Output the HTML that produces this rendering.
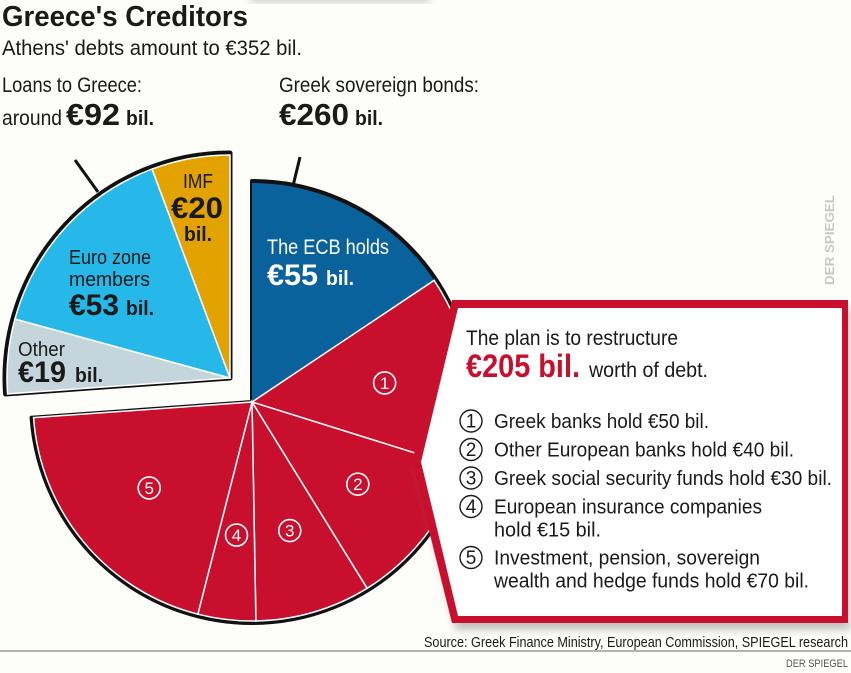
<!DOCTYPE html>
<html><head><meta charset="utf-8"><style>
html,body{margin:0;padding:0;background:#fdfdf9;}
svg{display:block;font-family:"Liberation Sans Narrow","Liberation Sans",sans-serif;}
</style></head><body>
<svg id="chart" width="851" height="673" viewBox="0 0 851 673">
<defs>
<filter id="sh" x="-10%" y="-10%" width="130%" height="130%"><feGaussianBlur stdDeviation="4"/></filter>
</defs>
<rect width="851" height="673" fill="#fdfdf9"/>
<rect x="250" y="-8" width="180" height="10" rx="4" fill="#999" opacity="0.5" filter="url(#sh)"/>
<text x="2" y="26" font-size="29" font-weight="bold" fill="#1a1a1a" textLength="246" lengthAdjust="spacingAndGlyphs">Greece's Creditors</text>
<text x="2" y="55" font-size="21" fill="#1a1a1a" textLength="300" lengthAdjust="spacingAndGlyphs">Athens' debts amount to €352 bil.</text>
<text x="2" y="92" font-size="21" fill="#1a1a1a" textLength="140" lengthAdjust="spacingAndGlyphs">Loans to Greece:</text>
<text x="2" y="125" font-size="21" fill="#1a1a1a"><tspan textLength="60" lengthAdjust="spacingAndGlyphs">around</tspan><tspan x="66" font-size="31" font-weight="bold" textLength="54" lengthAdjust="spacingAndGlyphs">€92</tspan><tspan x="126" font-weight="bold" font-size="20" textLength="28" lengthAdjust="spacingAndGlyphs">bil.</tspan></text>
<text x="279" y="92" font-size="21" fill="#1a1a1a" textLength="200" lengthAdjust="spacingAndGlyphs">Greek sovereign bonds:</text>
<text x="279" y="125" font-size="31" font-weight="bold" fill="#1a1a1a"><tspan textLength="70" lengthAdjust="spacingAndGlyphs">€260</tspan><tspan x="355" font-size="20" textLength="28" lengthAdjust="spacingAndGlyphs">bil.</tspan></text>
<text transform="translate(834,285) rotate(-90)" font-size="13" font-weight="bold" fill="#c8c8c8" textLength="90" lengthAdjust="spacingAndGlyphs">DER SPIEGEL</text>
<line x1="75" y1="160" x2="98" y2="192" stroke="#111" stroke-width="3"/>
<line x1="300" y1="157" x2="293" y2="186" stroke="#111" stroke-width="3"/>
<g id="loans"></g>
<g id="bonds"></g>
<g>
<polygon points="456,308 850,308 850,630 456,630 416,470" fill="#777" opacity="0.45" filter="url(#sh)"/>
<polygon points="452,300 848,300 848,623 452,623 412,462" fill="#c8102e"/>
<polygon points="458,308 842,308 842,616 458,616 421,462" fill="#fff"/>
<text x="466" y="345" font-size="21" fill="#1a1a1a" textLength="212" lengthAdjust="spacingAndGlyphs">The plan is to restructure</text>
<text x="466" y="377" font-size="32" font-weight="bold" fill="#c8102e" textLength="114" lengthAdjust="spacingAndGlyphs">€205 bil.</text>
<text x="589" y="377" font-size="21" fill="#1a1a1a" textLength="119" lengthAdjust="spacingAndGlyphs">worth of debt.</text>
</g>
<g id="legend"></g>
<line x1="0" y1="651" x2="851" y2="651" stroke="#666" stroke-width="1"/>
<text x="848" y="647" text-anchor="end" font-size="15" fill="#1a1a1a" textLength="424" lengthAdjust="spacingAndGlyphs">Source: Greek Finance Ministry, European Commission, SPIEGEL research</text>
<text x="848" y="667" text-anchor="end" font-size="11" fill="#555" textLength="62" lengthAdjust="spacingAndGlyphs">DER SPIEGEL</text>
</svg>
<script>
const bondLabels = ["ECB","Greek banks","Other European banks","Greek social security funds","European insurance companies","Investment, pension, sovereign wealth and hedge funds"];
const bondValues = [55,50,40,30,15,70];
const loanLabels = ["Other","Euro zone members","IMF"];
const loanValues = [19,53,20];
const legendLines = [["Greek banks hold €50 bil."],["Other European banks hold €40 bil."],["Greek social security funds hold €30 bil."],["European insurance companies","hold €15 bil."],["Investment, pension, sovereign","wealth and hedge funds hold €70 bil."]];
const legendWidths = [[215],[300],[338],[268,107],[266,315]];

const NS="http://www.w3.org/2000/svg";
const total = bondValues.reduce((a,b)=>a+b,0)+loanValues.reduce((a,b)=>a+b,0);
function ang(v){return v/total*360;}
function pt(cx,cy,r,a){const t=a*Math.PI/180;return [cx+r*Math.sin(t),cy-r*Math.cos(t)];}
function arc(cx,cy,r,a0,a1){const p0=pt(cx,cy,r,a0),p1=pt(cx,cy,r,a1);const lg=(a1-a0)>180?1:0;
 return `M${cx},${cy}L${p0[0]},${p0[1]}A${r},${r} 0 ${lg} 1 ${p1[0]},${p1[1]}Z`;}
function mk(tag,attrs,parent){const e=document.createElementNS(NS,tag);for(const k in attrs)e.setAttribute(k,attrs[k]);parent.appendChild(e);return e;}

// bonds pie
const bg=document.getElementById('bonds');
const BC=[252,402],BR=219;
const bondColors=["#0a629c","#c8102e","#c8102e","#c8102e","#c8102e","#c8102e"];
const bondEnd=bondValues.reduce((s,v)=>s+ang(v),0);
const outline=mk('path',{d:arc(BC[0],BC[1],BR+2,0,bondEnd),fill:"#111",stroke:"#111","stroke-width":4,"stroke-linejoin":"round"},bg);


let a=0;
bondValues.forEach((v,i)=>{
 const a1=a+ang(v);
 const p=mk('path',{d:arc(BC[0],BC[1],BR,a,a1),fill:bondColors[i],stroke:"#fff","stroke-width":i===0?0:1.5},bg);
 
 
 if(i>0){
  const m=pt(BC[0],BC[1],134,(a+a1)/2);
  const c=mk('circle',{cx:m[0],cy:m[1],r:11,fill:"none",stroke:"#fff","stroke-width":1.6},bg);
  
  
  const t=mk('text',{x:m[0],y:m[1]+6,"text-anchor":"middle","font-size":17,fill:"#fff"},bg);
  t.textContent=String(i);
  
  
 }
 a=a1;
});
const e1=mk('text',{x:267,y:254,"font-size":21,fill:"#fff",textLength:122,lengthAdjust:"spacingAndGlyphs"},bg);
e1.textContent="The ECB holds";


const e2=mk('text',{x:267,y:285,"font-size":30,"font-weight":"bold",fill:"#fff"},bg);
e2.innerHTML='<tspan textLength="51" lengthAdjust="spacingAndGlyphs">€'+bondValues[0]+'</tspan><tspan x="326" font-size="20" textLength="28" lengthAdjust="spacingAndGlyphs">bil.</tspan>';



// loans pie
const lg=document.getElementById('loans');
const LC=[230,378],LR=223;
const loanColors=["#c5d5dc","#25b8e8","#e2a200"];
const lStart=bondEnd,lEnd=lStart+loanValues.reduce((s,v)=>s+ang(v),0);
const lo=mk('path',{d:arc(LC[0],LC[1],LR+2,lStart,lEnd),fill:"#111",stroke:"#111","stroke-width":5,"stroke-linejoin":"round"},lg);


let b=lStart;
loanValues.forEach((v,i)=>{
 const b1=b+ang(v);
 const p=mk('path',{d:arc(LC[0],LC[1],LR,b,b1),fill:loanColors[i],stroke:"#fff","stroke-width":1.5},lg);
 
 
 b=b1;
});
function lbl(x,y,s,fs,bold,w,name,col){const t=mk('text',{x:x,y:y,"font-size":fs,fill:col||"#1a1a1a",textLength:w,lengthAdjust:"spacingAndGlyphs"},lg);if(bold)t.setAttribute('font-weight','bold');t.textContent=s;return t;}
lbl(183,188,"IMF",20,false,30,'imf-label');
lbl(171,218,"€"+loanValues[2],30,true,52,'imf-value');
lbl(184,241,"bil.",20,true,28,'imf-unit');
lbl(69,264,"Euro zone",20,false,82,'euro-zone-label');
lbl(69,286,"members",20,false,81,'euro-zone-label-2');
lbl(69,315,"€"+loanValues[1],30,true,50,'euro-zone-value');
lbl(126,315,"bil.",20,true,28,'euro-zone-unit');
lbl(18,356,"Other",20,false,47,'other-label');
lbl(18,382,"€"+loanValues[0],30,true,48,'other-value');
lbl(75,382,"bil.",20,true,28,'other-unit');

// legend
const lgd=document.getElementById('legend');
let y=428;
const lh=[28.5,28.5,28.5,51,0];
legendLines.forEach((lines,i)=>{
 const c=mk('circle',{cx:471,cy:y-7,r:11,fill:"none",stroke:"#1a1a1a","stroke-width":1.4},lgd);
 
 
 const n=mk('text',{x:471,y:y-0.5,"text-anchor":"middle","font-size":19,fill:"#1a1a1a"},lgd);
 n.textContent=String(i+1);
 
 
 lines.forEach((s,j)=>{
  const t=mk('text',{x:494,y:y+j*23,"font-size":20,fill:"#1a1a1a",textLength:legendWidths[i][j],lengthAdjust:"spacingAndGlyphs"},lgd);
  t.textContent=s;
  
  
 });
 y+=lh[i];
});
</script>
</body></html>
